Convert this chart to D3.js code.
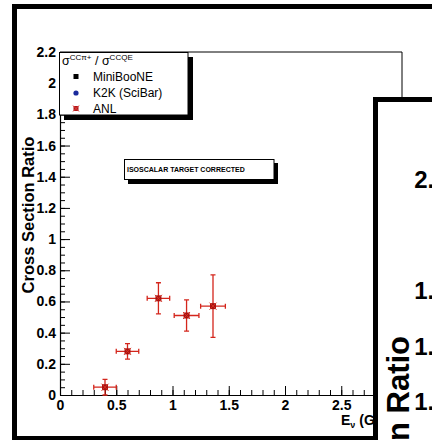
<!DOCTYPE html>
<html>
<head>
<meta charset="utf-8">
<script src="https://cdn.jsdelivr.net/npm/d3@7"></script>
<style>
  body { margin: 0; background: #fff; }
  svg { display: block; font-family: "Liberation Sans", Arial, Helvetica, sans-serif; }
</style>
</head>
<body>
<svg id="chart" width="432" height="440"></svg>
<script>
// ANL measurements of the CC pi+ / CCQE ratio
const anlEnergy = [0.4, 0.6, 0.875, 1.125, 1.36];
const anlRatio = [0.05, 0.28, 0.62, 0.51, 0.57];
const anlEnergyErr = [0.1, 0.1, 0.1, 0.11, 0.11];
const anlRatioErr = [0.05, 0.05, 0.1, 0.1, 0.2];

// Axis ticks and labels
const xMajorTicks = [0, 0.5, 1, 1.5, 2, 2.5, 3];
const xTickLabels = ["0", "0.5", "1", "1.5", "2", "2.5", "3"];
const yMajorTicks = [0, 0.2, 0.4, 0.6, 0.8, 1, 1.2, 1.4, 1.6, 1.8, 2, 2.2];
const yTickLabels = ["0", "0.2", "0.4", "0.6", "0.8", "1", "1.2", "1.4", "1.6", "1.8", "2", "2.2"];

// Legend
const legendNames = ["MiniBooNE", "K2K (SciBar)", "ANL"];
const legendColors = ["#000000", "#1a2a9c", "#cc2020"];
const legendShapes = ["square", "circle", "cross"];

// Neighbouring pad (larger copy of the same axis)
const padTicks = [2.2, 2, 1.8, 1.6, 1.4];
const padTickLabels = ["2.2", "2", "1.8", "1.6", "1.4"];

const errColor = "#d4261c";
const markColor = "#a81212";

const svg = d3.select("#chart");

// Canvas frame
svg.append("rect").attr("x", 14.5).attr("y", 6.5).attr("width", 600).attr("height", 432)
  .attr("fill", "#fff").attr("stroke", "#000").attr("stroke-width", 5);

const x = d3.scaleLinear().domain([0, 3.04]).range([60, 402]);
const y = d3.scaleLinear().domain([0, 2.2]).range([395, 52]);

// Frame top and right edges
svg.append("path")
  .attr("d", `M${x(0)},${y(2.2)}H${x(3.04)}V${y(0)}`)
  .attr("fill", "none").attr("stroke", "#000").attr("stroke-width", 1);

// X axis
const xMinor = d3.range(0, 30.5, 1).map(d => d / 10);
svg.append("g").attr("transform", `translate(0,${y(0)})`)
  .call(d3.axisBottom(x).tickValues(xMinor).tickSize(-5).tickSizeOuter(0).tickFormat(""))
  .call(g => g.select(".domain").remove());
const gx = svg.append("g").attr("transform", `translate(0,${y(0)})`)
  .call(d3.axisBottom(x).tickValues(xMajorTicks).tickSize(-9).tickSizeOuter(0).tickPadding(5)
    .tickFormat((d, i) => xTickLabels[i]));
gx.selectAll("text").attr("font-size", 14).attr("font-weight", "bold").attr("fill", "#000")
  .attr("font-family", "Liberation Sans, Arial, sans-serif");
gx.select(".domain").attr("stroke-width", 1.2);

// Y axis
const yMinor = d3.range(0, 44.5, 1).map(d => d / 20);
svg.append("g").attr("transform", `translate(${x(0)},0)`)
  .call(d3.axisLeft(y).tickValues(yMinor).tickSize(-5).tickSizeOuter(0).tickFormat(""))
  .call(g => g.select(".domain").remove());
const gy = svg.append("g").attr("transform", `translate(${x(0)},0)`)
  .call(d3.axisLeft(y).tickValues(yMajorTicks).tickSize(-10).tickSizeOuter(0).tickPadding(4)
    .tickFormat((d, i) => yTickLabels[i]));
gy.selectAll("text").attr("font-size", 14).attr("font-weight", "bold").attr("fill", "#000")
  .attr("font-family", "Liberation Sans, Arial, sans-serif");
gy.select(".domain").attr("stroke-width", 1.2);

// Axis titles
svg.append("text").attr("transform", "translate(33.5,215) rotate(-90)")
  .attr("text-anchor", "middle").attr("font-size", 16.5).attr("font-weight", "bold")
  .text("Cross Section Ratio");
const xt = svg.append("text").attr("x", 341).attr("y", 425)
  .attr("font-size", 14).attr("font-weight", "bold");
xt.append("tspan").text("E");
xt.append("tspan").attr("font-size", 9).attr("dy", 3).text("\u03bd");
xt.append("tspan").attr("dy", -3).text(" (GeV)");

// ANL data: error bars with end caps, then markers
const pts = anlEnergy.map((e, i) => ({ e, r: anlRatio[i], ex: anlEnergyErr[i], ey: anlRatioErr[i] }));
const eb = svg.append("g").attr("stroke", errColor).attr("stroke-width", 1.3).attr("fill", "none");
pts.forEach(p => {
  const cx = x(p.e), cy = y(p.r);
  const x0 = x(p.e - p.ex), x1 = x(p.e + p.ex), y0 = y(p.r - p.ey), y1 = y(p.r + p.ey);
  eb.append("path").attr("d",
    `M${x0},${cy}H${x1}M${cx},${y0}V${y1}` +
    `M${x0},${cy - 2.5}v5M${x1},${cy - 2.5}v5M${cx - 2.5},${y0}h5M${cx - 2.5},${y1}h5`);
});
const mk = svg.append("g");
pts.forEach(p => {
  const cx = x(p.e), cy = y(p.r);
  mk.append("rect").attr("x", cx - 3).attr("y", cy - 3).attr("width", 6).attr("height", 6)
    .attr("fill", markColor);
  mk.append("path").attr("d", `M${cx - 3.5},${cy - 3.5}L${cx + 3.5},${cy + 3.5}M${cx - 3.5},${cy + 3.5}L${cx + 3.5},${cy - 3.5}`)
    .attr("stroke", "#d83020").attr("stroke-width", 1);
});

// Legend box with drop shadow
svg.append("rect").attr("x", 64).attr("y", 57).attr("width", 129).attr("height", 63).attr("fill", "#000");
svg.append("rect").attr("x", 59.5).attr("y", 52.5).attr("width", 128.5).attr("height", 62.5)
  .attr("fill", "#fff").attr("stroke", "#000").attr("stroke-width", 1);
const hdr = svg.append("text").attr("x", 62).attr("y", 64.5).attr("font-size", 12.5);
hdr.append("tspan").text("\u03c3");
hdr.append("tspan").attr("font-size", 8).attr("dy", -4.5).text("CC\u03c0+");
hdr.append("tspan").attr("dy", 4.5).text(" / \u03c3");
hdr.append("tspan").attr("font-size", 8).attr("dy", -4.5).text("CCQE");
const legRowY = [76.5, 93, 108.5];
legendNames.forEach((name, i) => {
  const cy = legRowY[i];
  if (legendShapes[i] === "square") {
    svg.append("rect").attr("x", 73.5).attr("y", cy - 2.5).attr("width", 5).attr("height", 5).attr("fill", legendColors[i]);
  } else if (legendShapes[i] === "circle") {
    svg.append("circle").attr("cx", 76).attr("cy", cy).attr("r", 2.6).attr("fill", legendColors[i]);
  } else {
    svg.append("rect").attr("x", 73.5).attr("y", cy - 2.5).attr("width", 5).attr("height", 5).attr("fill", "#b01818");
    svg.append("path").attr("d", `M${73},${cy - 3}L${79},${cy + 3}M${73},${cy + 3}L${79},${cy - 3}`)
      .attr("stroke", "#e04040").attr("stroke-width", 1);
  }
  svg.append("text").attr("x", 93).attr("y", cy + 4.3).attr("font-size", 12).text(name);
});

// Note box with drop shadow
svg.append("rect").attr("x", 128).attr("y", 163).attr("width", 150).attr("height", 21).attr("fill", "#000");
svg.append("rect").attr("x", 124.5).attr("y", 159.5).attr("width", 149.5).attr("height", 20)
  .attr("fill", "#fff").attr("stroke", "#000").attr("stroke-width", 1);
svg.append("text").attr("x", 127).attr("y", 172.3).attr("font-size", 7).attr("font-weight", "bold")
  .text("ISOSCALAR TARGET CORRECTED");

// Neighbouring pad overlapping on the right
svg.append("rect").attr("x", 375.5).attr("y", 99.5).attr("width", 300).attr("height", 400)
  .attr("fill", "#fff").attr("stroke", "#000").attr("stroke-width", 5);
const y2 = d3.scaleLinear().domain([0, 2.2]).range([792, 179]);
svg.append("g").selectAll("text").data(padTicks).join("text")
  .attr("x", 447.5).attr("y", d => y2(d) + 8.5)
  .attr("text-anchor", "end").attr("font-size", 24).attr("font-weight", "bold")
  .text((d, i) => padTickLabels[i]);
svg.append("text").attr("transform", "translate(408.5,336) rotate(-90)")
  .attr("text-anchor", "end").attr("font-size", 31).attr("font-weight", "bold")
  .text("Cross Section Ratio");
</script>
</body>
</html>
